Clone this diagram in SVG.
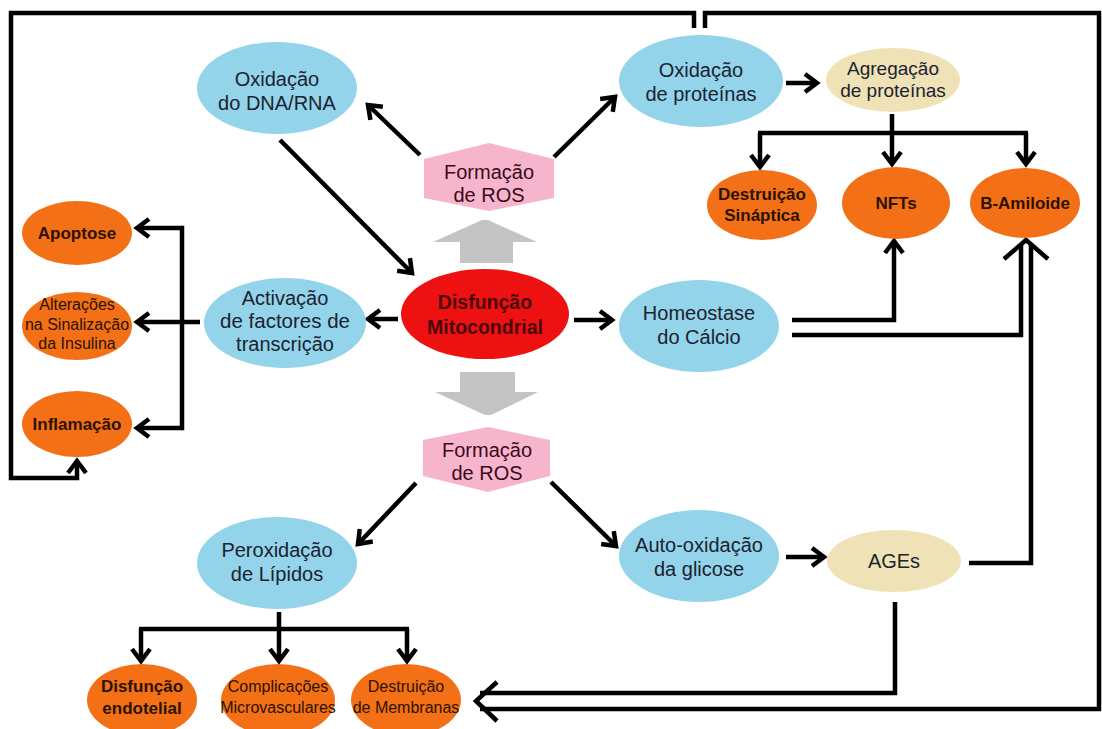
<svg xmlns="http://www.w3.org/2000/svg" width="1102" height="729" viewBox="0 0 1102 729">
<style>
.blue{fill:#93d4ea}
.orange{fill:#f37017}
.tan{fill:#efe2b6}
.pink{fill:#f7b5cd}
.gray{fill:#c4c4c4}
text{font-family:"Liberation Sans",Arial,sans-serif;text-anchor:middle}
.t{font-size:20px;fill:#1c2230}
.p{font-size:20px;fill:#3a0a1a}
.o{font-size:17px;font-weight:bold;fill:#2b1200}
.os{font-size:16px;fill:#2b1200}
.ln{fill:none;stroke:#000;stroke-width:4.5}
.ar{fill:none;stroke:#000;stroke-width:4.5;marker-end:url(#ah)}
</style>
<defs>
<marker id="ah" markerUnits="userSpaceOnUse" markerWidth="24" markerHeight="24" viewBox="0 0 24 24" refX="18" refY="12" orient="auto">
<path d="M6,3 L18,12 L6,21" fill="none" stroke="#000" stroke-width="4.5"/>
</marker>
</defs>
<rect width="1102" height="729" fill="#fff"/>

<g id="connectors">
<line class="ar" x1="420" y1="155" x2="368" y2="105"/>
<line class="ar" x1="554" y1="157" x2="615" y2="97"/>
<line class="ar" x1="280" y1="140" x2="412" y2="273"/>
<line class="ar" x1="786" y1="83" x2="817" y2="83"/>
<path class="ln" d="M892,114 V133 M758,133 H1028"/>
<line class="ar" x1="760" y1="133" x2="760" y2="167"/>
<line class="ar" x1="892" y1="133" x2="892" y2="164"/>
<line class="ar" x1="1026" y1="133" x2="1026" y2="164"/>
<line class="ar" x1="398" y1="319" x2="368" y2="319"/>
<line class="ar" x1="574" y1="320" x2="612" y2="320"/>
<line class="ar" x1="200" y1="322" x2="137" y2="322"/>
<path class="ln" d="M182,226 V430"/>
<line class="ar" x1="184" y1="228" x2="137" y2="228"/>
<line class="ar" x1="184" y1="428" x2="137" y2="428"/>
<path class="ar" d="M792,320 H894 V241"/>
<path class="ln" d="M792,335 H1021 V244"/>
<path class="ln" d="M969,563 H1031 V244"/>
<path class="ln" d="M1004,259 L1026,240 L1048,259"/>
<line class="ar" x1="416" y1="483" x2="358" y2="544"/>
<line class="ar" x1="551" y1="482" x2="616" y2="546"/>
<line class="ar" x1="786" y1="557" x2="824" y2="557"/>
<path class="ln" d="M279,612 V629 M139,629 H409"/>
<line class="ar" x1="141" y1="629" x2="141" y2="661"/>
<line class="ar" x1="279" y1="629" x2="279" y2="661"/>
<line class="ar" x1="407" y1="629" x2="407" y2="661"/>
<path class="ln" d="M895,602 V693 H480"/>
<path class="ln" d="M705,28 V13 H1099 V709 H480"/>
<path class="ln" d="M497,682 L476,701 L497,721"/>
<path class="ar" d="M694,28 V13 H11 V478 H77 V461"/>
</g>

<g id="gray-arrows">
<polygon class="gray" points="482,220 488,220 537,242 513,242 513,263 460,263 460,242 433,242"/>
<polygon class="gray" points="460,372 515,372 515,392 538,392 491,415 485,415 435,392 460,392"/>
</g>

<g id="ros-top">
<polygon class="pink" points="424,159 489,143 554,159 554,198 489,211 424,198"/>
<text class="p" x="489" y="179">Formação</text>
<text class="p" x="489" y="201.5">de ROS</text>
</g>

<g id="ros-bottom">
<polygon class="pink" points="423,440 488,427 550,440 550,476 488,492 423,476"/>
<text class="p" x="487" y="457">Formação</text>
<text class="p" x="487" y="479.5">de ROS</text>
</g>

<g id="dna">
<ellipse class="blue" cx="277" cy="88" rx="80" ry="46"/>
<text class="t" x="277" y="86">Oxidação</text>
<text class="t" x="277" y="110">do DNA/RNA</text>
</g>

<g id="oxid-prot">
<ellipse class="blue" cx="701" cy="81" rx="82" ry="46"/>
<text class="t" x="701" y="77">Oxidação</text>
<text class="t" x="701" y="101">de proteínas</text>
</g>

<g id="agregacao">
<ellipse class="tan" cx="893" cy="80" rx="67" ry="32"/>
<text class="t" x="893" y="75" style="font-size:19px">Agregação</text>
<text class="t" x="893" y="97" style="font-size:19px">de proteínas</text>
</g>

<g id="destr-sinap">
<ellipse class="orange" cx="762" cy="205" rx="55" ry="35"/>
<text class="o" x="762" y="200">Destruição</text>
<text class="o" x="762" y="221">Sináptica</text>
</g>

<g id="nfts">
<ellipse class="orange" cx="896" cy="203" rx="54" ry="36"/>
<text class="o" x="896" y="209">NFTs</text>
</g>

<g id="bamiloide">
<ellipse class="orange" cx="1025" cy="203" rx="55" ry="35"/>
<text class="o" x="1025" y="209">B-Amiloide</text>
</g>

<g id="disfuncao">
<ellipse cx="485" cy="314" rx="84" ry="45" fill="#ee1111"/>
<text x="485" y="309" style="font-size:19.5px;font-weight:bold;fill:#4a0808">Disfunção</text>
<text x="485" y="334" style="font-size:19.5px;font-weight:bold;fill:#4a0808">Mitocondrial</text>
</g>

<g id="activacao">
<ellipse class="blue" cx="285" cy="323" rx="81" ry="45"/>
<text class="t" x="285" y="305">Activação</text>
<text class="t" x="285" y="328" style="font-size:20.5px">de factores de</text>
<text class="t" x="285" y="351">transcrição</text>
</g>

<g id="homeostase">
<ellipse class="blue" cx="699" cy="326" rx="80" ry="46"/>
<text class="t" x="699" y="320">Homeostase</text>
<text class="t" x="699" y="344">do Cálcio</text>
</g>

<g id="apoptose">
<ellipse class="orange" cx="77" cy="233" rx="55" ry="32"/>
<text class="o" x="77" y="239">Apoptose</text>
</g>

<g id="alteracoes">
<ellipse class="orange" cx="77" cy="326" rx="55" ry="34"/>
<text class="os" x="77" y="310">Alterações</text>
<text class="os" x="77" y="329.5">na Sinalização</text>
<text class="os" x="77" y="349">da Insulina</text>
</g>

<g id="inflamacao">
<ellipse class="orange" cx="77" cy="424" rx="55" ry="33"/>
<text class="o" x="77" y="430">Inflamação</text>
</g>

<g id="peroxidacao">
<ellipse class="blue" cx="277" cy="563" rx="80" ry="46"/>
<text class="t" x="277" y="557">Peroxidação</text>
<text class="t" x="277" y="581">de Lípidos</text>
</g>

<g id="auto-oxidacao">
<ellipse class="blue" cx="699" cy="556" rx="80" ry="46"/>
<text class="t" x="699" y="552">Auto-oxidação</text>
<text class="t" x="699" y="576">da glicose</text>
</g>

<g id="ages">
<ellipse class="tan" cx="894" cy="561" rx="67" ry="31"/>
<text class="t" x="894" y="568">AGEs</text>
</g>

<g id="disf-endotelial">
<ellipse class="orange" cx="142" cy="700" rx="55" ry="36"/>
<text class="o" x="142" y="692">Disfunção</text>
<text class="o" x="142" y="714">endotelial</text>
</g>

<g id="complicacoes">
<ellipse class="orange" cx="278" cy="700" rx="57" ry="36"/>
<text class="os" x="278" y="692">Complicações</text>
<text class="os" x="278" y="713">Microvasculares</text>
</g>

<g id="destr-membranas">
<ellipse class="orange" cx="406" cy="700" rx="55" ry="36"/>
<text class="os" x="406" y="692">Destruição</text>
<text class="os" x="406" y="713">de Membranas</text>
</g>
</svg>
